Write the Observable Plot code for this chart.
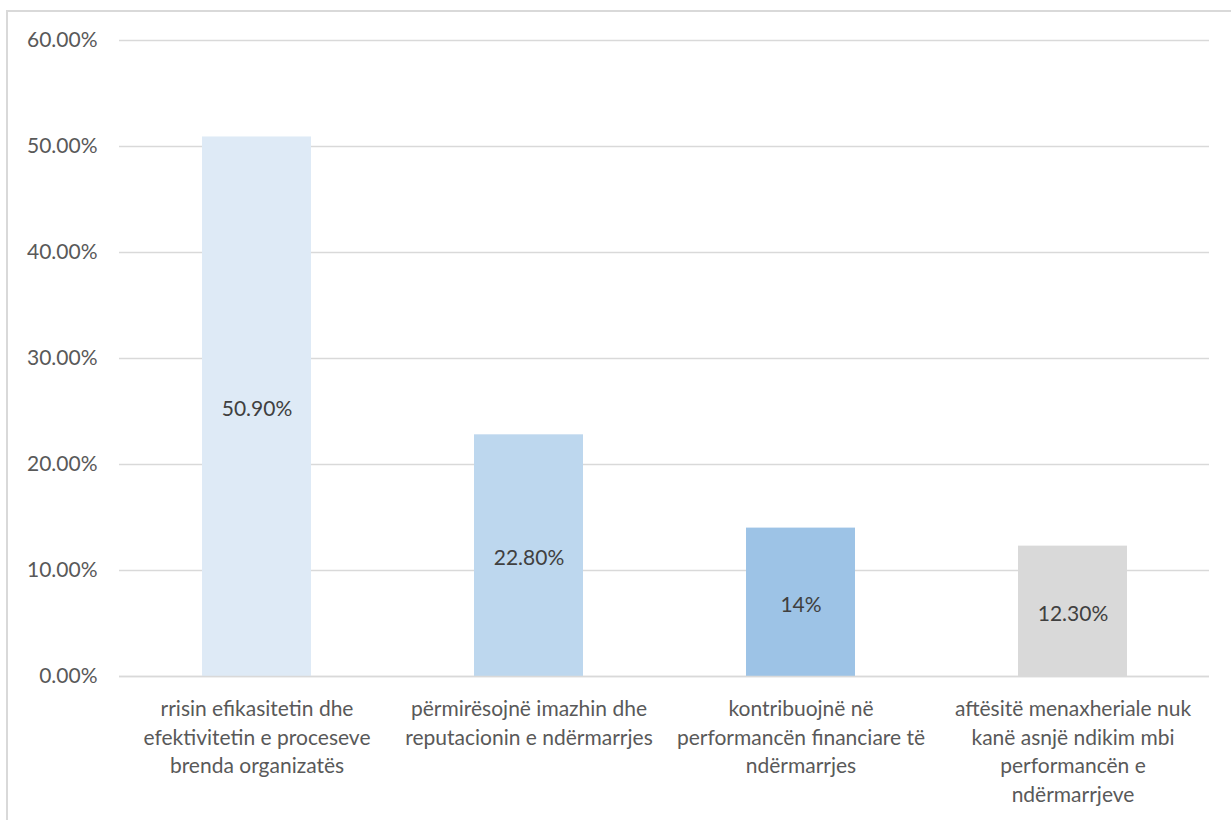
<!DOCTYPE html>
<html><head><meta charset="utf-8">
<script src="https://cdn.jsdelivr.net/npm/d3@7"></script>
<script src="https://cdn.jsdelivr.net/npm/@observablehq/plot@0.6"></script>
<style>
body{margin:0;background:#fff;overflow:hidden;}
#frame{position:absolute;left:6px;top:10px;width:1300px;height:900px;border-left:2px solid #d9d9d9;border-top:2px solid #d9d9d9;}
#chart{position:absolute;left:0;top:0;}
</style></head><body><div id="frame"></div><div id="chart"></div>
<script>
const categories = [
  "rrisin efikasitetin dhe\nefektivitetin e proceseve\nbrenda organizatës",
  "përmirësojnë imazhin dhe\nreputacionin e ndërmarrjes",
  "kontribuojnë në\nperformancën financiare të\nndërmarrjes",
  "aftësitë menaxheriale nuk\nkanë asnjë ndikim mbi\nperformancën e\nndërmarrjeve"
];
const values = [0.509, 0.228, 0.14, 0.123];
const valueLabels = ["50.90%", "22.80%", "14%", "12.30%"];
const barColors = ["#DEEAF6", "#BDD7EE", "#9DC3E6", "#D9D9D9"];
const yTicks = [0, 0.1, 0.2, 0.3, 0.4, 0.5, 0.6];

const data = categories.map((c, i) => ({category: c, value: values[i], label: valueLabels[i], color: barColors[i]}));

const chart = Plot.plot({
  width: 1231, height: 820,
  marginLeft: 119, marginRight: 22, marginTop: 40, marginBottom: 144,
  style: {fontFamily: "Lato, 'Open Sans', sans-serif", fontSize: "21px", color: "#595959", background: "transparent"},
  x: {domain: categories, paddingInner: 0.6, paddingOuter: 0.3, axis: null},
  y: {domain: [0, 0.6], axis: null},
  color: {type: "identity"},
  marks: [
    Plot.ruleY(yTicks, {stroke: "#d9d9d9", strokeWidth: 1.5}),
    Plot.barY(data, {x: "category", y: "value", fill: "color"}),
    Plot.ruleY([0], {stroke: "#d9d9d9", strokeWidth: 1.5}),
    Plot.text(data, {x: "category", y: d => d.value / 2, text: "label", fill: "#404040", fontSize: 21, dy: 3}),
    Plot.axisY(yTicks, {tickFormat: d3.format(".2%"), tickSize: 0, tickPadding: 22, fill: "#595959", fontSize: 21, label: null}),
    Plot.axisX({tickSize: 0, tickPadding: 19, lineHeight: 1.37, fill: "#595959", fontSize: 21, textAnchor: "middle", label: null})
  ]
});
document.getElementById("chart").appendChild(chart);
</script>
</body></html>
